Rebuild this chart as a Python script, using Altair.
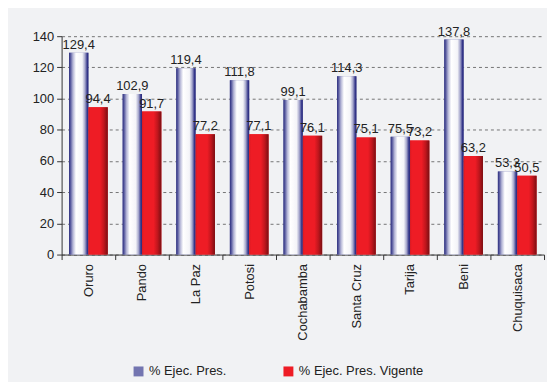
import altair as alt
import pandas as pd

departamentos = ["Oruro", "Pando", "La Paz", "Potosi", "Cochabamba", "Santa Cruz", "Tarija", "Beni", "Chuquisaca"]
ejec_pres = [129.4, 102.9, 119.4, 111.8, 99.1, 114.3, 75.5, 137.8, 53.3]
ejec_vigente = [94.4, 91.7, 77.2, 77.1, 76.1, 75.1, 73.2, 63.2, 50.5]
series = ["% Ejec. Pres.", "% Ejec. Pres. Vigente"]
y_ticks = [0, 20, 40, 60, 80, 100, 120, 140]

rows = []
for d, a, b in zip(departamentos, ejec_pres, ejec_vigente):
    rows.append({"dep": d, "serie": series[0], "valor": a})
    rows.append({"dep": d, "serie": series[1], "valor": b})
df = pd.DataFrame(rows)

FONT = "Liberation Sans"

grad_white = alt.Gradient(
    gradient="linear", x1=0, x2=1, y1=0, y2=0,
    stops=[
        alt.GradientStop(color="#2a2c7c", offset=0),
        alt.GradientStop(color="#5a5ca0", offset=0.08),
        alt.GradientStop(color="#b4b5d6", offset=0.2),
        alt.GradientStop(color="#ffffff", offset=0.36),
        alt.GradientStop(color="#f4f4f8", offset=0.68),
        alt.GradientStop(color="#a6a7cc", offset=0.82),
        alt.GradientStop(color="#34368a", offset=0.94),
        alt.GradientStop(color="#2a2c7c", offset=1),
    ],
)
grad_red = alt.Gradient(
    gradient="linear", x1=0, x2=1, y1=0, y2=0,
    stops=[
        alt.GradientStop(color="#d81a22", offset=0),
        alt.GradientStop(color="#ee1c25", offset=0.1),
        alt.GradientStop(color="#ee1c25", offset=0.6),
        alt.GradientStop(color="#c0161d", offset=0.8),
        alt.GradientStop(color="#7a0e12", offset=1),
    ],
)

x_enc = alt.X(
    "dep:N", sort=departamentos, title=None,
    scale=alt.Scale(paddingInner=0, paddingOuter=0),
    axis=alt.Axis(labelAngle=-90, labelAlign="right", labelBaseline="middle",
                  tickBand="extent", labelPadding=4, tickSize=5,
                  domainColor="#333333", tickColor="#333333",
                  labelFont=FONT, labelFontSize=13, labelColor="#222222"),
)
xoff = alt.XOffset("serie:N", sort=series,
                   scale=alt.Scale(paddingInner=0, paddingOuter=0.385))
y_enc = alt.Y(
    "valor:Q", title=None,
    scale=alt.Scale(domain=[0, 140], nice=False),
    axis=alt.Axis(values=y_ticks, tickSize=5, labelPadding=3,
                  grid=True, gridDash=[3, 3], gridColor="#555555", gridWidth=0.8,
                  domainColor="#333333", tickColor="#333333",
                  labelFont=FONT, labelFontSize=13, labelColor="#222222"),
)

base = alt.Chart(df).encode(x=x_enc, xOffset=xoff, y=y_enc)

legend_bars = base.mark_bar().encode(
    color=alt.Color(
        "serie:N", sort=series,
        scale=alt.Scale(domain=series, range=["#7375b0", "#ee1c25"]),
        legend=alt.Legend(title=None, orient="none", direction="horizontal",
                          legendX=71, legendY=331, symbolType="square",
                          symbolSize=100, symbolStrokeWidth=0, columnPadding=55,
                          labelFont=FONT, labelFontSize=13, labelColor="#222222"),
    )
)
white_bars = base.transform_filter(alt.datum.serie == series[0]).mark_bar(color=grad_white)
red_bars = base.transform_filter(alt.datum.serie == series[1]).mark_bar(color=grad_red)

labels = base.transform_calculate(
    lab="replace(format(datum.valor, '.1f'), '.', ',')"
).mark_text(baseline="bottom", dy=-1, font=FONT, fontSize=13, color="#222222").encode(
    text="lab:N"
)

chart = alt.layer(legend_bars, white_bars, red_bars, labels).properties(
    width=486, height=220,
    padding={"left": 24, "top": 16, "right": 2, "bottom": 2},
    background="#f1f2f4",
).configure_view(stroke=None)

chart.save("out.html", embed_options={"renderer": "svg", "actions": False})
